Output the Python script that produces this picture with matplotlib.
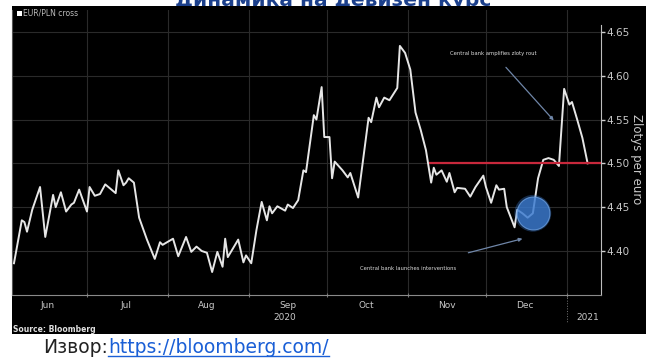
import matplotlib
matplotlib.use("Agg")
import matplotlib.pyplot as plt
import matplotlib.dates as mdates
import matplotlib.transforms as mtransforms
from matplotlib.patches import Rectangle
from matplotlib.lines import Line2D
import pandas as pd

# EUR/PLN cross
dates = ['2020-06-03', '2020-06-06', '2020-06-07', '2020-06-08', '2020-06-10', '2020-06-13',
         '2020-06-15', '2020-06-18', '2020-06-19', '2020-06-21', '2020-06-23', '2020-06-25',
         '2020-06-26', '2020-06-28',
         '2020-07-01', '2020-07-02', '2020-07-04', '2020-07-06', '2020-07-08', '2020-07-12',
         '2020-07-13', '2020-07-15', '2020-07-16', '2020-07-17', '2020-07-19', '2020-07-21',
         '2020-07-24', '2020-07-27', '2020-07-29', '2020-07-30',
         '2020-08-03', '2020-08-05', '2020-08-08', '2020-08-10', '2020-08-12', '2020-08-14',
         '2020-08-16', '2020-08-18', '2020-08-20', '2020-08-22', '2020-08-23', '2020-08-24',
         '2020-08-28', '2020-08-30', '2020-08-31',
         '2020-09-02', '2020-09-04', '2020-09-06', '2020-09-08', '2020-09-09', '2020-09-10',
         '2020-09-12', '2020-09-15', '2020-09-16', '2020-09-18', '2020-09-20', '2020-09-22',
         '2020-09-23', '2020-09-26', '2020-09-27', '2020-09-29', '2020-09-30',
         '2020-10-02', '2020-10-03', '2020-10-04', '2020-10-07', '2020-10-09', '2020-10-10',
         '2020-10-13', '2020-10-17', '2020-10-18', '2020-10-20', '2020-10-21', '2020-10-23',
         '2020-10-25', '2020-10-28', '2020-10-29', '2020-10-31',
         '2020-11-02', '2020-11-04', '2020-11-06', '2020-11-08', '2020-11-10', '2020-11-11',
         '2020-11-12', '2020-11-14', '2020-11-16', '2020-11-17', '2020-11-19', '2020-11-20',
         '2020-11-23', '2020-11-25', '2020-11-27', '2020-11-30',
         '2020-12-01', '2020-12-03', '2020-12-05', '2020-12-06', '2020-12-08', '2020-12-09',
         '2020-12-12', '2020-12-13', '2020-12-15', '2020-12-17', '2020-12-19', '2020-12-21',
         '2020-12-23', '2020-12-25', '2020-12-27', '2020-12-29', '2020-12-31',
         '2021-01-02', '2021-01-03', '2021-01-05', '2021-01-07', '2021-01-09']
rates = [4.386, 4.435, 4.433, 4.422, 4.447, 4.473, 4.416, 4.464, 4.450, 4.467, 4.445, 4.453,
         4.455, 4.470,
         4.445, 4.473, 4.463, 4.465, 4.476, 4.466, 4.492, 4.475, 4.478, 4.483, 4.478, 4.438,
         4.413, 4.391, 4.410, 4.407,
         4.414, 4.394, 4.416, 4.399, 4.405, 4.400, 4.398, 4.376, 4.399, 4.382, 4.414, 4.393,
         4.413, 4.387, 4.395,
         4.386, 4.424, 4.456, 4.435, 4.451, 4.443, 4.451, 4.446, 4.453, 4.449, 4.458, 4.492,
         4.490, 4.555, 4.550, 4.587, 4.530,
         4.530, 4.483, 4.502, 4.492, 4.484, 4.489, 4.461, 4.552, 4.547, 4.575, 4.564, 4.575,
         4.572, 4.586, 4.634, 4.626,
         4.607, 4.558, 4.538, 4.515, 4.478, 4.495, 4.487, 4.492, 4.479, 4.489, 4.467, 4.472,
         4.471, 4.462, 4.473, 4.486,
         4.473, 4.455, 4.475, 4.470, 4.471, 4.450, 4.427, 4.447, 4.443, 4.438, 4.443, 4.483,
         4.504, 4.506, 4.504, 4.497, 4.585,
         4.567, 4.570, 4.550, 4.529, 4.500]

month_labels = ['Jun', 'Jul', 'Aug', 'Sep', 'Oct', 'Nov', 'Dec']
y_ticks = [4.40, 4.45, 4.50, 4.55, 4.60, 4.65]
level = 4.50
level_start = '2020-11-09'
intervention_day = '2020-12-19'
intervention_rate = 4.443

x = pd.to_datetime(dates)

fig = plt.figure(figsize=(6.46, 3.6), dpi=100)
fig.patch.set_facecolor('white')

# title partly hidden behind the black screenshot
fig.text(0.515, 0.984, 'Динамика на девизен курс', ha='center', va='baseline',
         fontsize=14.5, fontweight='bold', color='#1b3f8b', zorder=0)
fig.add_artist(Rectangle((0.018, 0.072), 0.982, 0.911, transform=fig.transFigure,
                         facecolor='black', edgecolor='none', zorder=1))

ax = fig.add_axes([0.0186, 0.1806, 0.9117, 0.7917])
ax.set_zorder(2)
ax.set_facecolor('black')

ax.plot(x, rates, color='#e6e6e6', lw=1.4, zorder=3)
ax.hlines(level, pd.Timestamp(level_start), pd.Timestamp('2021-01-15'),
          color='#c8283c', lw=1.6, zorder=4)
ax.scatter([pd.Timestamp(intervention_day)], [intervention_rate], s=700,
           color='#3b7bd0', alpha=0.35, edgecolors='none', zorder=5)
ax.scatter([pd.Timestamp(intervention_day)], [intervention_rate], s=560,
           color='#3b7bd0', alpha=0.75, edgecolors='#6fa4e6', linewidths=0.8, zorder=5)

ax.set_xlim(pd.Timestamp('2020-06-02 06:00'), pd.Timestamp('2021-01-14 03:00'))
ax.set_ylim(4.3498, 4.675)

# month boundaries as grid, labels mid-month
month_starts = pd.date_range('2020-07-01', '2021-01-01', freq='MS')
ax.set_xticks(month_starts)
ax.set_xticklabels([])
mids = [pd.Timestamp(f'2020-{m:02d}-16') for m in range(6, 13)]
ax.set_xticks(mids, minor=True)
ax.set_xticklabels(month_labels, minor=True)
ax.tick_params(axis='x', which='major', length=3, color='#777777', direction='inout')
ax.tick_params(axis='x', which='minor', length=0, pad=4.5, labelsize=6.5, labelcolor='#c8c8c8')

ax.yaxis.tick_right()
ax.set_yticks(y_ticks)
ax.set_yticklabels([f'{v:.2f}' for v in y_ticks])
ax.tick_params(axis='y', length=3, width=1, color='#cfcfcf', pad=1,
               labelsize=7.5, labelcolor='#c8c8c8')

ax.grid(True, color='#2a2a2a', lw=0.8)
ax.set_axisbelow(True)

for side in ['top']:
    ax.spines[side].set_visible(False)
ax.spines['left'].set_color('#555555')
ax.spines['bottom'].set_color('#8a8a8a')
ax.spines['right'].set_color('#bdbdbd')
ax.spines['right'].set_bounds(4.3498, 4.658)

# year labels below month labels
trans = mtransforms.blended_transform_factory(ax.transData, fig.transFigure)
ax.text(pd.Timestamp('2020-09-15'), 0.117, '2020', transform=trans, ha='center',
        va='center', fontsize=6.5, color='#c8c8c8', clip_on=False)
ax.text(pd.Timestamp('2021-01-09'), 0.117, '2021', transform=trans, ha='center',
        va='center', fontsize=6.5, color='#c8c8c8', clip_on=False)
ax.plot([pd.Timestamp('2021-01-01')] * 2, [0.181, 0.105], transform=trans,
        color='#777777', lw=0.7, ls=':', clip_on=False)

ax.annotate('Central bank amplifies zloty rout', xy=(pd.Timestamp('2020-12-27'), 4.549),
            xytext=(pd.Timestamp('2020-12-04'), 4.625), fontsize=3.8, color='#dddddd',
            ha='center', va='center',
            arrowprops=dict(arrowstyle='-|>', color='#6f86a8', lw=0.9,
                            shrinkA=8, shrinkB=0, mutation_scale=5))
ax.annotate('Central bank launches interventions', xy=(pd.Timestamp('2020-12-15'), 4.414),
            xytext=(pd.Timestamp('2020-11-01'), 4.380), fontsize=3.8, color='#dddddd',
            ha='center', va='center',
            arrowprops=dict(arrowstyle='-|>', color='#6f86a8', lw=0.9,
                            shrinkA=30, shrinkB=0, mutation_scale=5))

fig.text(637 / 646, 0.558, 'Zlotys per euro', rotation=270, ha='center', va='center',
         fontsize=8.5, color='#c8c8c8', zorder=3)

# legend marker and source line
fig.add_artist(Rectangle((17 / 646, 1 - 16 / 360), 5 / 646, 5 / 360, transform=fig.transFigure,
                         facecolor='white', edgecolor='none', zorder=3))
fig.text(23 / 646, 1 - 13.5 / 360, 'EUR/PLN cross', ha='left', va='center',
         fontsize=5.5, color='#bbbbbb', zorder=3)
fig.text(13 / 646, 1 - 330 / 360, 'Source: Bloomberg', ha='left', va='center',
         fontsize=5.5, fontweight='bold', color='#e0e0e0', zorder=3)

# caption under the screenshot
fig.text(43 / 646, 0.0208, 'Извор:', ha='left', va='baseline', fontsize=13.5,
         color='#222222')
link = fig.text(108 / 646, 0.0208, 'https://bloomberg.com/', ha='left', va='baseline',
                fontsize=13.5, color='#1a5fd6')
fig.canvas.draw()
bb = link.get_window_extent().transformed(fig.transFigure.inverted())
fig.add_artist(Line2D([bb.x0, bb.x1], [0.0208 - 0.009] * 2, transform=fig.transFigure,
                      color='#1a5fd6', lw=1.0))

fig.savefig('out.png', dpi=100, facecolor=fig.get_facecolor())
